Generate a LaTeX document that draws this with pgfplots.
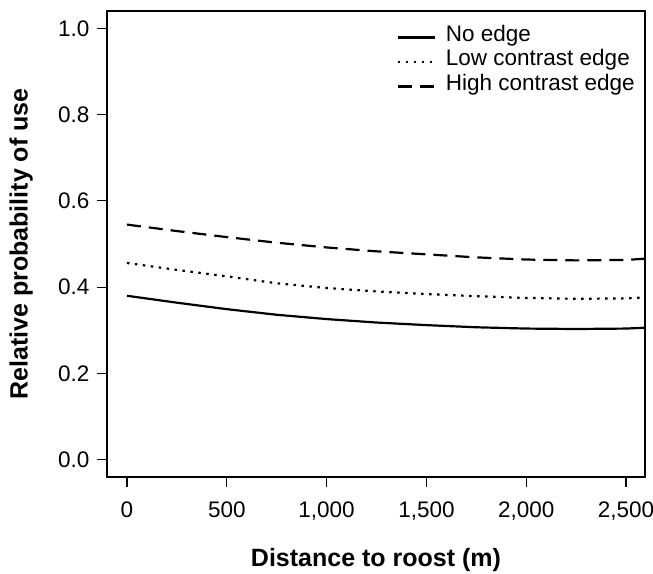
\documentclass[border=0pt]{standalone}
\usepackage{fontspec}
\setmainfont{Liberation Sans}
\usepackage{pgfplots}
\pgfplotsset{compat=1.18}

\pgfplotstableread{
x     none   low    high
0     0.380  0.456  0.545
250   0.364  0.440  0.530
500   0.349  0.425  0.516
750   0.336  0.409  0.503
1000  0.326  0.398  0.492
1250  0.318  0.390  0.483
1500  0.312  0.384  0.476
1750  0.307  0.379  0.469
2000  0.304  0.375  0.464
2250  0.303  0.373  0.462
2500  0.304  0.374  0.463
2595  0.306  0.376  0.466
}\datatab

\begin{document}
\begin{tikzpicture}
\begin{axis}[
  name=ax,
  scale only axis,
  width=538pt, height=466pt,
  xmin=-100, xmax=2595,
  ymin=-0.04, ymax=1.04,
  xtick={0,500,1000,1500,2000,2500},
  ytick={0,0.2,0.4,0.6,0.8,1.0},
  xtick pos=bottom, ytick pos=left,
  tick align=outside,
  major tick length=10pt,
  axis line style={line width=1.1pt},
  every tick/.style={black, line width=1.1pt},
  tick label style={font=\fontsize{22.5}{26}\selectfont},
  /pgf/number format/assume math mode=true,
  xticklabel style={yshift=-11pt, /pgf/number format/1000 sep={,}},
  yticklabel style={xshift=-4pt, /pgf/number format/.cd, fixed, fixed zerofill, precision=1},
  xlabel={Distance to roost (m)},
  ylabel={Relative probability of use},
  label style={font=\fontsize{25}{29}\selectfont\bfseries},
  xlabel style={at={(axis description cs:0.5,0)}, anchor=base, inner sep=0pt, yshift=-89pt},
  ylabel style={at={(axis description cs:0,0.5)}, anchor=south, inner sep=0pt, yshift=74pt},
  legend cell align=left,
  legend image code/.code={\draw[#1] (0pt,0pt) -- (37pt,0pt);},
  legend style={at={(rel axis cs:1,1)}, anchor=north east, xshift=-10pt, yshift=-14pt,
    draw=none, fill=none, inner sep=0pt, column sep=10pt, row sep=0pt,
    font=\fontsize{22.5}{26}\selectfont,
    nodes={inner sep=0pt, text height=16pt, text depth=8.5pt}},
]
\addplot[black, line width=2.2pt] table[x=x, y=none] {\datatab};
\addlegendentry{No edge}
\addplot[black, line width=2.2pt, dash pattern=on 2.5pt off 5.5pt] table[x=x, y=low] {\datatab};
\addlegendentry{Low contrast edge}
\addplot[black, line width=2.2pt, dash pattern=on 14pt off 8pt] table[x=x, y=high] {\datatab};
\addlegendentry{High contrast edge}
\end{axis}
\pgfresetboundingbox
\path ([xshift=-107pt,yshift=-96pt]ax.south west) rectangle ([xshift=8pt,yshift=11pt]ax.north east);
\end{tikzpicture}
\end{document}
